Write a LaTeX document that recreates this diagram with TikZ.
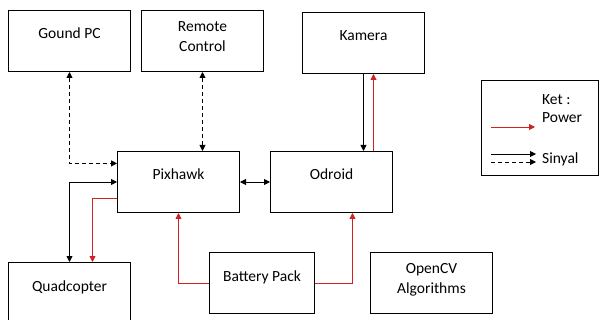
\documentclass[tikz,border=0pt]{standalone}
\usepackage{fontspec}
\setmainfont{Carlito}
\usepackage{tikz}
\usetikzlibrary{positioning,arrows.meta,calc}
\definecolor{pwrred}{RGB}{208,32,32}
\tikzset{
box/.style={
draw,
line width=1pt,
minimum width=122pt,
minimum height=61pt,
anchor=north west,
align=center,
text height=10pt,
text depth=14pt,
font=\fontsize{15.5}{20}\selectfont
},
twobox/.style={
draw,
line width=1pt,
minimum width=122pt,
minimum height=61pt,
anchor=north west,
align=center,
font=\fontsize{15.5}{20}\selectfont
},
lgd/.style={
anchor=west,
inner sep=0pt,
font=\fontsize{15.5}{20}\selectfont
},
sig/.style={
line width=0.9pt,
-{Triangle[length=6pt,width=6pt]}
},
both/.style={
{Triangle[length=6pt,width=6pt]}-{Triangle[length=6pt,width=6pt]}
},
dsh/.style={
dash pattern=on 4pt off 3pt
},
pwr/.style={
draw=pwrred,
line width=0.9pt,
-{Triangle[length=6pt,width=6pt]}
}
}
\newcommand{\dn}{\rule[-9pt]{0pt}{9pt}}

\begin{document}
\begin{tikzpicture}[x=1pt,y=-1pt]
\fill[white](0,0) rectangle (599,320);
\useasboundingbox (0,0) rectangle (599,320);

\node[box](gpc) at (8,10){Gound PC};
\node[twobox,right=10pt of gpc](rc){Remote\\Control\dn};
\node[box](kam) at (302,12){Kamera};
\node[box](pix) at (117,151){Pixhawk};
\node[box,right=30pt of pix](odr){Odroid};
\node[box](quad) at (8,262){Quadcopter};
\node[box,minimum width=105pt](bat) at (209,252){Battery Pack};
\node[twobox](ocv) at (370,252){OpenCV\\Algorithms\dn};

\node[draw,line width=1pt,minimum width=117pt,minimum height=95pt,anchor=north west](ket) at (481,80){};
\node[lgd](kett) at (542,100){Ket :};
\node[lgd](pwrt) at (542,118){Power};
\node[lgd](sigt) at (542,159){Sinyal};
\coordinate (p1) at (491,127);
\coordinate (p2) at (535,127);
\coordinate (s1) at (491,154);
\coordinate (s2) at (536,154);
\coordinate (d1) at (491,162);
\coordinate (d2) at (536,162);

\draw[sig,both,dsh](gpc.south) |- ($(pix.north west)!0.2!(pix.south west)$);
\draw[sig,both,dsh](rc.south) -- (rc.south |- pix.north);
\draw[sig,both](pix.east) -- (pix.east -| odr.west);
\draw[sig](kam.south) -- (kam.south |- odr.north);
\draw[pwr]([xshift=10pt]kam.south |- odr.north) -- ([xshift=10pt]kam.south);
\draw[sig,both](quad.north) |- (pix.west);
\draw[pwr]($(pix.north west)!0.77!(pix.south west)$) -| ([xshift=23pt]quad.north);
\draw[pwr](bat.west) -| (pix.south);
\draw[pwr](bat.east) -| ([xshift=21pt]odr.south);

\draw[pwr](p1) -- (p2);
\draw[sig](s1) -- (s2);
\draw[sig,dsh](d1) -- (d2);
\end{tikzpicture}
\end{document}
